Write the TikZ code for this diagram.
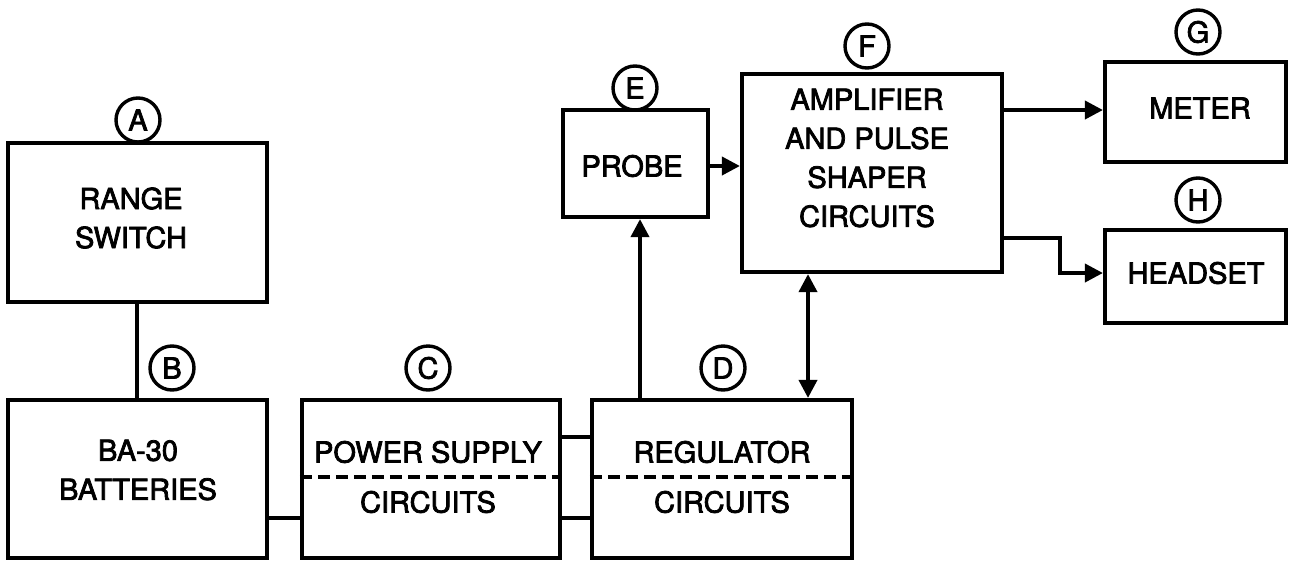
\documentclass[tikz,border=0pt]{standalone}
\usepackage{fontspec}
\setmainfont{TeX Gyre Heros}[FakeBold=2.6]
\usetikzlibrary{arrows.meta}
\begin{document}
\begin{tikzpicture}[x=1pt,y=-1pt,
  blk/.style={draw,line width=4.2pt,rectangle,inner sep=0pt},
  txt/.style={font=\fontsize{29}{39}\selectfont,align=center,inner sep=0pt},
  tag/.style={draw,circle,line width=3.4pt,minimum size=44pt,inner sep=0pt,font=\fontsize{29}{29}\selectfont},
  wire/.style={line width=3.8pt},
  arr/.style={wire,-{Triangle[length=18pt,width=18pt]}},
  darr/.style={wire,{Triangle[length=18pt,width=18pt]}-{Triangle[length=18pt,width=18pt]}},
  sep/.style={line width=3.8pt,dash pattern=on 12pt off 6pt}]
\useasboundingbox (0,0) rectangle (1290,560);
% boxes
\node[blk,minimum width=259pt,minimum height=159pt] (A) at (137.5,222.5) {};
\node[blk,minimum width=259pt,minimum height=158pt] (B) at (137.5,479) {};
\node[blk,minimum width=258pt,minimum height=158pt] (C) at (431,479) {};
\node[blk,minimum width=260pt,minimum height=158pt] (D) at (722,479) {};
\node[blk,minimum width=145pt,minimum height=107pt] (E) at (635.5,163.5) {};
\node[blk,minimum width=260pt,minimum height=198pt] (F) at (872,173) {};
\node[blk,minimum width=181pt,minimum height=100pt] (G) at (1195.5,112) {};
\node[blk,minimum width=181pt,minimum height=93pt] (H) at (1195.5,276.5) {};
% texts
\node[txt] (tA) at (131,218) {RANGE\\SWITCH};
\node[txt] (tB) at (138,470) {BA-30\\BATTERIES};
\node[txt] (tC1) at (428,452) {POWER SUPPLY};
\node[txt] (tC2) at (428,502) {CIRCUITS};
\node[txt] (tD1) at (722,452) {REGULATOR};
\node[txt] (tD2) at (722,502) {CIRCUITS};
\node[txt] (tE) at (632,166) {PROBE};
\node[txt] (tF) at (867,158) {AMPLIFIER\\AND PULSE\\SHAPER\\CIRCUITS};
\node[txt] (tG) at (1200,108) {METER};
\node[txt] (tH) at (1196,273) {HEADSET};
% dashed separators
\draw[sep] (C.west |- 0,477) -- (C.east |- 0,477);
\draw[sep] (D.west |- 0,477) -- (D.east |- 0,477);
% tags
\node[tag] (cA) at (138,120) {A};
\node[tag] (cB) at (172,368) {B};
\node[tag] (cC) at (428,368) {C};
\node[tag] (cD) at (723,368) {D};
\node[tag] (cE) at (635,88) {E};
\node[tag] (cF) at (867,46) {F};
\node[tag] (cG) at (1198,32) {G};
\node[tag] (cH) at (1198,200) {H};
% connectors
\draw[wire] (A.south -| 137,0) -- (B.north -| 137,0);
\draw[wire] (B.east |- 0,518) -- (C.west |- 0,518);
\draw[wire] (C.east |- 0,437) -- (D.west |- 0,437);
\draw[wire] (C.east |- 0,518) -- (D.west |- 0,518);
\draw[arr] (D.north -| 640,0) -- (E.south -| 640,0);
\draw[arr] (E.east |- 0,166) -- (F.west |- 0,166);
\draw[darr] (F.south -| 808,0) -- (D.north -| 808,0);
\draw[arr] (F.east |- 0,110) -- (G.west |- 0,110);
\coordinate (hb1) at (1060,238);
\coordinate (hb2) at (1060,273);
\draw[arr] (F.east |- hb1) -- (hb1) -- (hb2) -- (H.west |- hb2);
\end{tikzpicture}
\end{document}
